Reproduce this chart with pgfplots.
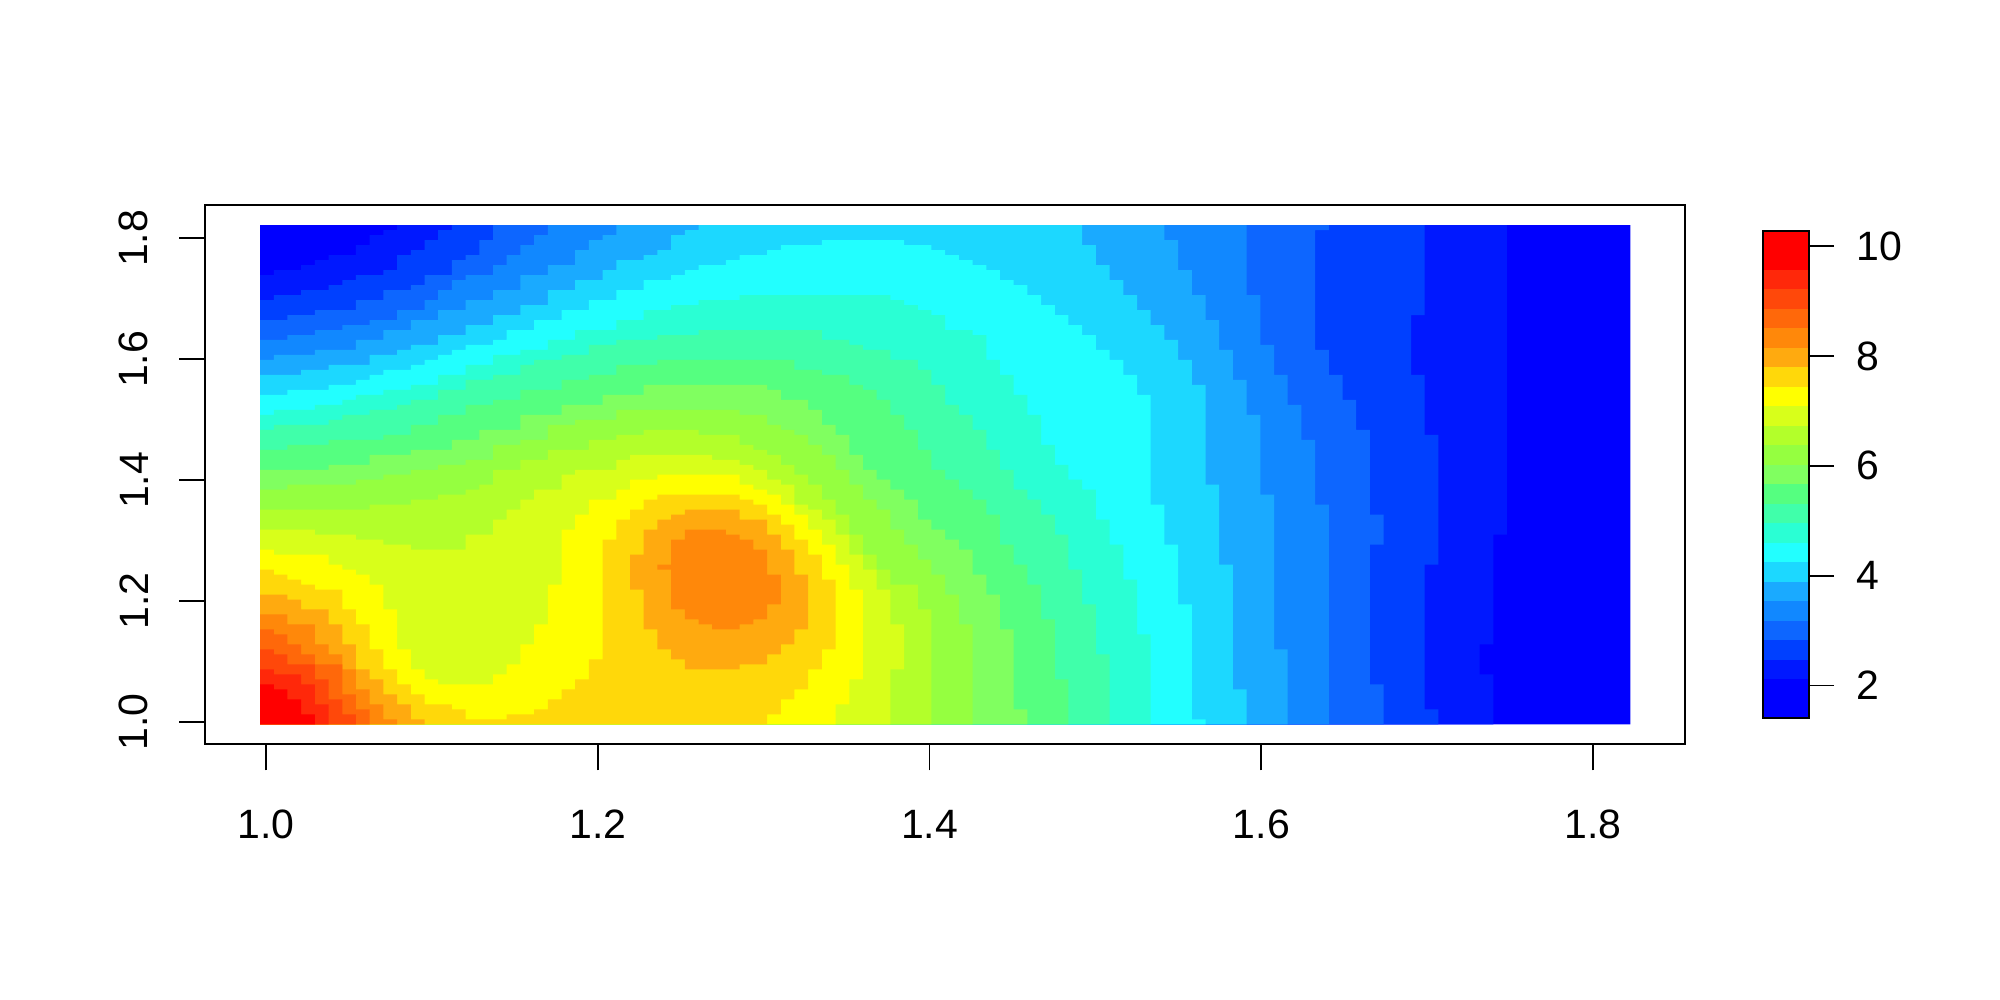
\documentclass[border=0pt]{standalone}
\usepackage{fontspec}
\setmainfont{Liberation Sans}
\usepackage{pgfplots}
\pgfplotsset{compat=1.18}
\definecolor{L1}{RGB}{0,0,255}
\definecolor{L2}{RGB}{0,24,255}
\definecolor{L3}{RGB}{0,64,255}
\definecolor{L4}{RGB}{13,102,255}
\definecolor{L5}{RGB}{17,136,255}
\definecolor{L6}{RGB}{26,170,255}
\definecolor{L7}{RGB}{28,216,255}
\definecolor{L8}{RGB}{34,255,255}
\definecolor{L9}{RGB}{42,255,212}
\definecolor{L10}{RGB}{64,255,170}
\definecolor{L11}{RGB}{85,255,128}
\definecolor{L12}{RGB}{128,255,96}
\definecolor{L13}{RGB}{149,255,64}
\definecolor{L14}{RGB}{179,255,42}
\definecolor{L15}{RGB}{216,255,26}
\definecolor{L16}{RGB}{255,255,0}
\definecolor{L17}{RGB}{255,216,10}
\definecolor{L18}{RGB}{255,170,15}
\definecolor{L19}{RGB}{255,136,10}
\definecolor{L20}{RGB}{255,104,10}
\definecolor{L21}{RGB}{255,72,10}
\definecolor{L22}{RGB}{255,40,10}
\definecolor{L23}{RGB}{255,0,0}
\newcommand{\tfont}{\fontsize{20.5}{24}\selectfont}
\pgfplotsset{
  lev/.style={fill=#1,draw=none,const plot mark left,no markers,forget plot,
    x filter/.expression={0.9964+0.00826*x},
    y filter/.expression={1.8217-0.00825*y}},
  cb/.style={fill=#1,draw=none,no markers,forget plot}
}
\begin{document}
\begin{tikzpicture}
\useasboundingbox (0,0) rectangle (1000pt,500pt);
\begin{axis}[
  at={(102.5pt,127.85pt)},anchor=south west,scale only axis,
  width=740pt,height=269.8pt,
  xmin=0.9632,xmax=1.8554,ymin=0.9636,ymax=1.8556,
  axis line style={line width=0.9pt},
  tick style={line width=0.9pt,black},
  tick align=outside,major tick length=13pt,
  xtick pos=bottom,ytick pos=left,
  xtick={1,1.2,1.4,1.6,1.8},ytick={1,1.2,1.4,1.6,1.8},
  xticklabels={1.0,1.2,1.4,1.6,1.8},yticklabels={1.0,1.2,1.4,1.6,1.8},
  xticklabel style={font=\tfont,inner sep=0pt,anchor=north,yshift=-19.75pt},
  yticklabel style={font=\tfont,inner sep=0pt,rotate=90,anchor=south,yshift=15.3pt},
  axis on top,
]
\addplot[lev=L1] coordinates {(0,100)(0,0)(100,0)(100,100)};
\addplot[lev=L2] coordinates {(0,100)(0,10)(1,9)(3,8)(4,7)(5,6)(7,4)(8,2)(9,1)(10,0)(91,0)(91,62)(90,62)(90,84)(89,84)(89,90)(90,90)(90,100)};
\addplot[lev=L3] coordinates {(0,100)(0,15)(1,14)(3,13)(5,12)(6,11)(7,10)(9,9)(10,6)(11,5)(12,3)(13,1)(14,0)(85,0)(85,18)(84,18)(84,30)(85,30)(85,42)(86,42)(86,68)(85,68)(85,97)(86,97)(86,100)};
\addplot[lev=L4] coordinates {(0,100)(0,19)(2,18)(4,17)(7,15)(9,13)(11,12)(12,10)(14,7)(15,6)(16,3)(17,0)(78,0)(78,1)(77,1)(77,25)(78,25)(78,30)(79,30)(79,35)(80,35)(80,41)(81,41)(81,58)(82,58)(82,64)(81,64)(81,92)(82,92)(82,100)};
\addplot[lev=L5] coordinates {(0,100)(0,23)(2,22)(4,21)(6,20)(8,19)(10,17)(12,15)(13,13)(14,11)(15,10)(17,8)(18,6)(19,4)(20,2)(21,0)(72,0)(72,14)(73,14)(73,24)(74,24)(74,30)(75,30)(75,36)(76,36)(76,43)(77,43)(77,56)(78,56)(78,100)};
\addplot[lev=L6] coordinates {(0,100)(0,27)(1,26)(4,25)(7,23)(9,21)(11,19)(13,17)(15,15)(17,13)(19,10)(21,8)(23,5)(24,3)(25,2)(26,0)(66,0)(66,3)(67,3)(67,9)(68,9)(68,14)(69,14)(69,19)(70,19)(70,25)(71,25)(71,31)(72,31)(72,38)(73,38)(73,54)(74,54)(74,85)(75,85)(75,100)};
\addplot[lev=L7] coordinates {(0,100)(0,30)(3,29)(5,28)(8,26)(10,25)(11,24)(13,22)(15,20)(17,18)(19,16)(21,13)(23,11)(25,9)(26,7)(28,6)(29,5)(30,2)(31,1)(32,0)(59,0)(60,1)(60,4)(61,4)(61,8)(62,8)(62,11)(63,11)(63,14)(64,14)(64,17)(65,17)(65,20)(66,20)(66,23)(67,23)(67,27)(68,27)(68,32)(69,32)(69,52)(70,52)(70,68)(71,68)(71,93)(72,93)(72,100)};
\addplot[lev=L8] coordinates {(0,100)(0,34)(2,33)(5,32)(7,31)(8,30)(9,29)(11,28)(12,27)(13,26)(14,25)(15,24)(17,23)(18,21)(20,19)(22,17)(24,15)(26,13)(28,11)(30,10)(31,9)(32,8)(34,7)(35,6)(37,5)(38,4)(41,3)(47,3)(47,4)(49,5)(50,6)(51,7)(52,8)(53,9)(54,11)(55,12)(56,14)(57,16)(58,18)(59,20)(60,22)(61,25)(62,27)(63,30)(64,34)(65,34)(65,56)(66,56)(66,64)(67,64)(67,76)(68,76)(68,99)(69,99)(69,100)};
\addplot[lev=L9] coordinates {(0,100)(0,38)(1,37)(4,36)(6,35)(7,34)(9,33)(11,32)(13,30)(15,28)(17,26)(19,25)(21,23)(23,21)(26,19)(28,17)(30,16)(32,15)(35,14)(44,14)(46,15)(47,16)(48,17)(49,18)(50,21)(51,21)(52,22)(53,27)(54,27)(54,30)(55,34)(56,38)(57,44)(58,48)(59,51)(60,53)(61,55)(61,59)(62,59)(62,64)(63,64)(63,71)(64,71)(64,82)(65,82)(65,100)};
\addplot[lev=L10] coordinates {(0,100)(0,41)(1,40)(5,39)(6,38)(8,37)(10,36)(11,35)(13,33)(15,31)(17,30)(19,28)(20,27)(22,26)(24,24)(26,23)(29,22)(32,21)(39,21)(41,23)(43,24)(44,25)(46,27)(48,29)(49,32)(50,36)(51,38)(52,41)(53,45)(54,49)(55,53)(56,55)(57,58)(58,62)(59,64)(59,69)(60,69)(60,76)(61,76)(61,86)(62,86)(62,100)};
\addplot[lev=L11] coordinates {(0,100)(0,45)(2,44)(5,43)(9,42)(11,40)(13,38)(15,36)(17,35)(19,33)(22,31)(24,30)(26,28)(29,27)(37,27)(39,29)(41,30)(43,32)(44,33)(45,35)(46,38)(47,41)(48,45)(49,49)(50,51)(51,53)(52,55)(53,58)(54,64)(55,68)(56,72)(57,79)(58,79)(58,91)(59,91)(59,100)};
\addplot[lev=L12] coordinates {(0,100)(0,49)(5,48)(8,46)(11,45)(14,43)(16,41)(19,38)(22,36)(25,34)(28,32)(35,32)(37,33)(38,35)(40,37)(41,37)(41,40)(42,42)(43,46)(44,49)(45,51)(46,53)(47,55)(48,59)(49,61)(50,63)(51,65)(52,70)(53,74)(54,81)(55,81)(55,97)(56,97)(56,100)};
\addplot[lev=L13] coordinates {(0,100)(0,53)(2,52)(7,51)(9,50)(11,49)(13,48)(15,47)(17,44)(19,43)(21,40)(23,39)(26,37)(34,37)(35,38)(36,38)(37,40)(38,41)(39,42)(40,44)(41,46)(42,49)(43,52)(44,55)(45,57)(46,61)(47,64)(48,67)(49,70)(50,74)(51,80)(52,80)(52,100)};
\addplot[lev=L14] coordinates {(0,100)(0,57)(8,56)(11,55)(13,54)(15,53)(16,52)(17,49)(19,47)(21,45)(24,43)(26,42)(28,41)(31,41)(32,42)(35,44)(36,45)(37,46)(38,48)(39,50)(40,52)(41,55)(42,58)(43,62)(44,66)(45,69)(46,72)(47,72)(48,77)(49,77)(49,100)};
\addplot[lev=L15] coordinates {(0,100)(0,61)(4,62)(7,63)(9,64)(11,65)(14,65)(15,62)(17,59)(18,57)(19,55)(20,53)(22,50)(23,49)(26,47)(27,46)(32,46)(33,47)(35,48)(36,49)(37,51)(38,52)(39,56)(40,57)(41,59)(42,62)(43,66)(44,69)(45,73)(46,80)(47,80)(47,89)(46,89)(46,100)};
\addplot[lev=L16] coordinates {(0,100)(0,65)(1,66)(4,66)(5,68)(6,69)(7,70)(8,72)(9,72)(9,77)(10,77)(10,85)(11,85)(11,89)(12,91)(13,92)(17,92)(17,90)(18,88)(19,84)(20,80)(21,80)(21,72)(22,72)(22,61)(23,58)(24,55)(26,53)(27,51)(29,50)(33,50)(35,51)(35,52)(36,53)(37,54)(38,56)(39,58)(40,61)(41,64)(42,68)(43,73)(44,73)(44,91)(43,91)(43,96)(42,96)(42,100)};
\addplot[lev=L17] coordinates {(0,100)(0,69)(1,70)(2,71)(3,72)(4,73)(6,74)(6,77)(7,77)(7,80)(8,80)(8,85)(9,85)(9,89)(10,89)(10,92)(11,92)(11,94)(12,96)(13,96)(14,97)(15,98)(15,99)(18,99)(18,98)(20,98)(20,97)(21,95)(22,93)(23,91)(24,87)(25,87)(25,63)(26,59)(27,57)(28,55)(29,54)(35,54)(35,55)(36,56)(37,58)(38,60)(39,63)(40,66)(41,71)(42,71)(42,85)(41,85)(41,89)(40,89)(40,93)(39,93)(39,95)(38,95)(38,98)(37,98)(37,100)};
\addplot[lev=L18] coordinates {(0,100)(0,74)(2,75)(3,77)(5,80)(6,81)(6,84)(7,84)(7,89)(8,89)(8,91)(9,94)(10,96)(11,97)(11,99)(12,99)(12,100)};
\addplot[lev=L18] coordinates {(27,73)(27,66)(28,66)(28,61)(29,59)(30,58)(31,57)(34,57)(35,58)(35,59)(37,60)(37,62)(38,62)(38,65)(39,65)(39,70)(40,70)(40,81)(39,81)(39,84)(38,84)(38,86)(37,86)(37,88)(36,88)(35,89)(31,89)(31,87)(30,87)(30,85)(29,85)(29,81)(28,81)(28,73)};
\addplot[lev=L19] coordinates {(0,100)(0,78)(2,78)(2,80)(4,81)(4,84)(5,84)(5,86)(6,86)(6,89)(7,89)(7,93)(8,93)(8,96)(9,96)(9,99)(10,99)(10,100)};
\addplot[lev=L19] coordinates {(29,69)(29,68)(30,68)(30,63)(31,61)(34,61)(34,62)(35,63)(36,63)(36,65)(37,65)(37,70)(38,70)(38,76)(37,76)(37,79)(36,79)(36,80)(35,80)(35,81)(33,81)(33,80)(32,80)(32,79)(31,79)(31,77)(30,77)(30,69)};
\addplot[lev=L20] coordinates {(0,100)(0,81)(1,82)(2,84)(3,86)(4,86)(4,88)(5,88)(6,91)(6,94)(7,96)(7,97)(8,97)(8,100)};
\addplot[lev=L21] coordinates {(0,100)(0,85)(1,86)(2,88)(4,88)(4,91)(5,91)(5,95)(6,95)(6,98)(7,98)(7,100)};
\addplot[lev=L22] coordinates {(0,100)(0,89)(1,90)(3,91)(3,92)(4,92)(4,96)(5,96)(5,100)};
\addplot[lev=L23] coordinates {(0,100)(0,92)(1,93)(2,95)(3,95)(3,98)(4,98)(4,100)};
\end{axis}
\begin{axis}[
  at={(881.5pt,141pt)},anchor=south west,scale only axis,
  width=23pt,height=243.5pt,
  xmin=0,xmax=1,ymin=1.407,ymax=10.278,
  axis line style={line width=0.9pt},
  tick style={line width=0.9pt,black},
  tick align=outside,major tick length=12.5pt,
  xtick=\empty,ytick={2,4,6,8,10},
  ytick pos=right,yticklabel pos=right,
  yticklabels={2,4,6,8,10},
  yticklabel style={font=\tfont,inner sep=0pt,anchor=west,xshift=11pt},
  axis on top,
]
\addplot[cb=L1] coordinates {(0,1.407)(1,1.407)(1,2.117)(0,2.117)};
\addplot[cb=L2] coordinates {(0,2.117)(1,2.117)(1,2.472)(0,2.472)};
\addplot[cb=L3] coordinates {(0,2.472)(1,2.472)(1,2.826)(0,2.826)};
\addplot[cb=L4] coordinates {(0,2.826)(1,2.826)(1,3.181)(0,3.181)};
\addplot[cb=L5] coordinates {(0,3.181)(1,3.181)(1,3.536)(0,3.536)};
\addplot[cb=L6] coordinates {(0,3.536)(1,3.536)(1,3.891)(0,3.891)};
\addplot[cb=L7] coordinates {(0,3.891)(1,3.891)(1,4.246)(0,4.246)};
\addplot[cb=L8] coordinates {(0,4.246)(1,4.246)(1,4.600)(0,4.600)};
\addplot[cb=L9] coordinates {(0,4.600)(1,4.600)(1,4.955)(0,4.955)};
\addplot[cb=L10] coordinates {(0,4.955)(1,4.955)(1,5.310)(0,5.310)};
\addplot[cb=L11] coordinates {(0,5.310)(1,5.310)(1,5.665)(0,5.665)};
\addplot[cb=L12] coordinates {(0,5.665)(1,5.665)(1,6.020)(0,6.020)};
\addplot[cb=L13] coordinates {(0,6.020)(1,6.020)(1,6.374)(0,6.374)};
\addplot[cb=L14] coordinates {(0,6.374)(1,6.374)(1,6.729)(0,6.729)};
\addplot[cb=L15] coordinates {(0,6.729)(1,6.729)(1,7.084)(0,7.084)};
\addplot[cb=L16] coordinates {(0,7.084)(1,7.084)(1,7.439)(0,7.439)};
\addplot[cb=L17] coordinates {(0,7.439)(1,7.439)(1,7.794)(0,7.794)};
\addplot[cb=L18] coordinates {(0,7.794)(1,7.794)(1,8.148)(0,8.148)};
\addplot[cb=L19] coordinates {(0,8.148)(1,8.148)(1,8.503)(0,8.503)};
\addplot[cb=L20] coordinates {(0,8.503)(1,8.503)(1,8.858)(0,8.858)};
\addplot[cb=L21] coordinates {(0,8.858)(1,8.858)(1,9.213)(0,9.213)};
\addplot[cb=L22] coordinates {(0,9.213)(1,9.213)(1,9.568)(0,9.568)};
\addplot[cb=L23] coordinates {(0,9.568)(1,9.568)(1,10.278)(0,10.278)};
\end{axis}
\end{tikzpicture}
\end{document}
